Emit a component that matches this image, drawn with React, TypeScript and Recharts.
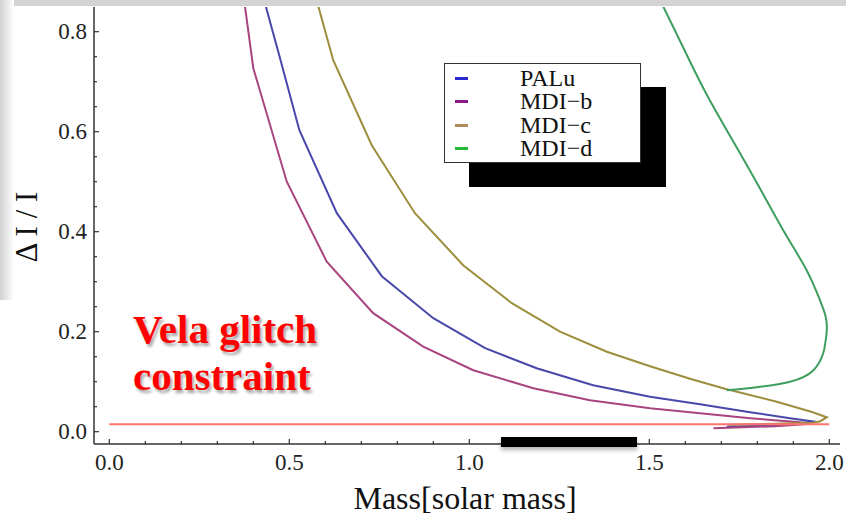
import { LineChart, Line, XAxis, YAxis, Legend } from "recharts"

// values
const PALU_MASS = [0.435, 0.472, 0.528, 0.632, 0.757, 0.9, 1.044, 1.187, 1.344, 1.502, 1.641, 1.78, 1.9, 1.962, 1.85, 1.715]
const PALU_DI = [0.85, 0.753, 0.603, 0.437, 0.311, 0.227, 0.167, 0.127, 0.093, 0.07, 0.055, 0.039, 0.026, 0.02, 0.013, 0.01]

const MDIB_MASS = [0.377, 0.4, 0.493, 0.604, 0.733, 0.872, 1.011, 1.178, 1.335, 1.502, 1.641, 1.78, 1.918, 1.948, 1.85, 1.678]
const MDIB_DI = [0.85, 0.727, 0.5, 0.34, 0.237, 0.17, 0.123, 0.087, 0.063, 0.047, 0.037, 0.027, 0.019, 0.016, 0.011, 0.007]

const MDIC_MASS = [0.581, 0.622, 0.729, 0.849, 0.983, 1.118, 1.252, 1.382, 1.502, 1.613, 1.71, 1.854, 1.95, 1.993, 1.975, 1.956, 1.85, 1.72]
const MDIC_DI = [0.85, 0.743, 0.573, 0.437, 0.333, 0.257, 0.2, 0.16, 0.131, 0.106, 0.086, 0.06, 0.04, 0.029, 0.021, 0.018, 0.016, 0.014]

const MDID_MASS = [1.539, 1.6, 1.668, 1.779, 1.872, 1.937, 1.974, 1.99, 1.993, 1.989, 1.983, 1.956, 1.891, 1.798, 1.715]
const MDID_DI = [0.85, 0.76, 0.663, 0.523, 0.403, 0.323, 0.263, 0.23, 0.203, 0.178, 0.157, 0.123, 0.1, 0.089, 0.083]

const VELA_MASS = [0, 2.0]
const VELA_DI = [0.0147, 0.0147]

const X_TICKS = [0, 0.1, 0.2, 0.3, 0.4, 0.5, 0.6, 0.7, 0.8, 0.9, 1.0, 1.1, 1.2, 1.3, 1.4, 1.5, 1.6, 1.7, 1.8, 1.9, 2.0]
const Y_TICKS = [0, 0.05, 0.1, 0.15, 0.2, 0.25, 0.3, 0.35, 0.4, 0.45, 0.5, 0.55, 0.6, 0.65, 0.7, 0.75, 0.8]

const zip = (mass: number[], di: number[]) => mass.map((m, i) => ({ m, d: di[i] }))

const series = [
  { name: "PALu", data: zip(PALU_MASS, PALU_DI), stroke: "#4848aa", legend: "#2a2ad0" },
  { name: "MDI\u2212b", data: zip(MDIB_MASS, MDIB_DI), stroke: "#a8447e", legend: "#8a1a8a" },
  { name: "MDI\u2212c", data: zip(MDIC_MASS, MDIC_DI), stroke: "#9c8e3c", legend: "#b08a5c" },
  { name: "MDI\u2212d", data: zip(MDID_MASS, MDID_DI), stroke: "#3e9e5e", legend: "#22bb33" },
]
const velaData = zip(VELA_MASS, VELA_DI)

// plot frame in page pixels
const W = 846
const H = 519
const LEFT = 94
const TOP = 7
const RIGHT = 840
const BOTTOM = 444
const FRAME = "#333"
const SERIF = "'Liberation Serif', 'Times New Roman', serif"
const tickText = { fontSize: 23, fontFamily: SERIF, fill: "#222" }

const isMajor = (v: number, step: number) => Math.abs(v / step - Math.round(v / step)) < 1e-6

const BottomTick = ({ x, payload }: any) => {
  const major = isMajor(payload.value, 0.5)
  return (
    <g>
      <line x1={x} x2={x} y1={BOTTOM} y2={BOTTOM - (major ? 5 : 3)} stroke={FRAME} strokeWidth={1.2} />
      {major && (
        <text x={x} y={470} textAnchor="middle" style={tickText}>
          {payload.value.toFixed(1)}
        </text>
      )}
    </g>
  )
}

const TopTick = ({ x, payload }: any) => {
  const major = isMajor(payload.value, 0.5)
  return <line x1={x} x2={x} y1={TOP} y2={TOP + (major ? 5 : 3)} stroke={FRAME} strokeWidth={1.2} />
}

const LeftTick = ({ y, payload }: any) => {
  const major = isMajor(payload.value, 0.2)
  return (
    <g>
      <line x1={LEFT} x2={LEFT + (major ? 5 : 3)} y1={y} y2={y} stroke={FRAME} strokeWidth={1.2} />
      {major && (
        <text x={87} y={y + 7.5} textAnchor="end" style={tickText}>
          {payload.value.toFixed(1)}
        </text>
      )}
    </g>
  )
}

const RightTick = ({ y, payload }: any) => {
  const major = isMajor(payload.value, 0.2)
  return <line x1={RIGHT} x2={RIGHT - (major ? 5 : 3)} y1={y} y2={y} stroke={FRAME} strokeWidth={1.2} />
}

const LegendBox = () => (
  <div
    style={{
      position: "relative",
      width: 195,
      height: 98,
      background: "#fff",
      border: `1.5px solid ${FRAME}`,
      boxShadow: "25px 24px 0 0 #000",
      fontFamily: SERIF,
    }}
  >
    {series.map((s, i) => (
      <div key={s.name} style={{ position: "absolute", left: 0, top: 3 + i * 23.3, height: 23.3, width: "100%" }}>
        <div style={{ position: "absolute", left: 10, top: 10, width: 13, height: 3, background: s.legend }} />
        <div style={{ position: "absolute", left: 75, top: 0, lineHeight: "23px", fontSize: 24, color: "#111" }}>
          {s.name}
        </div>
      </div>
    ))}
  </div>
)

export default function App() {
  return (
    <div style={{ position: "absolute", left: 0, top: 0, width: W, height: H, background: "#fff", overflow: "hidden" }}>
      {/* slide frame shading */}
      <div style={{ position: "absolute", left: 0, top: 0, width: W, height: 6, background: "#d3d3d3" }} />
      <div
        style={{
          position: "absolute",
          left: 0,
          top: 0,
          width: 14,
          height: 300,
          background: "linear-gradient(to right, #d2d2d2, #f6f6f6 80%, #fff)",
        }}
      />
      <LineChart
        width={W}
        height={H}
        margin={{ top: TOP, right: W - RIGHT, left: 0, bottom: 0 }}
        style={{ position: "absolute", left: 0, top: 0 }}
      >
        <XAxis
          xAxisId="b"
          type="number"
          dataKey="m"
          domain={[-0.0425, 2.0297]}
          allowDataOverflow
          ticks={X_TICKS}
          interval={0}
          height={H - BOTTOM}
          tickLine={false}
          axisLine={{ stroke: FRAME, strokeWidth: 1.5 }}
          tick={<BottomTick />}
          label={{
            content: () => (
              <text x={465} y={509} textAnchor="middle" style={{ fontSize: 32, fontFamily: SERIF, fill: "#111" }}>
                Mass[solar mass]
              </text>
            ),
          }}
        />
        <XAxis
          xAxisId="t"
          orientation="top"
          type="number"
          dataKey="m"
          domain={[-0.0425, 2.0297]}
          allowDataOverflow
          ticks={X_TICKS}
          interval={0}
          height={0}
          tickLine={false}
          axisLine={{ stroke: FRAME, strokeWidth: 1.5 }}
          tick={<TopTick />}
        />
        <YAxis
          yAxisId="l"
          type="number"
          domain={[-0.0246, 0.8494]}
          allowDataOverflow
          ticks={Y_TICKS}
          interval={0}
          width={LEFT}
          tickLine={false}
          axisLine={{ stroke: FRAME, strokeWidth: 1.5 }}
          tick={<LeftTick />}
          label={{
            content: () => (
              <text
                x={37}
                y={227}
                transform="rotate(-90 37 227)"
                textAnchor="middle"
                style={{ fontSize: 31, fontFamily: SERIF, fill: "#111" }}
              >
                Δ I / I
              </text>
            ),
          }}
        />
        <YAxis
          yAxisId="r"
          orientation="right"
          type="number"
          domain={[-0.0246, 0.8494]}
          allowDataOverflow
          ticks={Y_TICKS}
          interval={0}
          width={0}
          tickLine={false}
          axisLine={{ stroke: FRAME, strokeWidth: 1.5 }}
          tick={<RightTick />}
        />
        {series.map((s) => (
          <Line
            key={s.name}
            xAxisId="b"
            yAxisId="l"
            data={s.data}
            dataKey="d"
            name={s.name}
            type={s.name === "MDI\u2212d" ? "natural" : "linear"}
            stroke={s.stroke}
            strokeWidth={2}
            dot={false}
            isAnimationActive={false}
          />
        ))}
        <Line
          xAxisId="b"
          yAxisId="l"
          data={velaData}
          dataKey="d"
          name="Vela"
          type="linear"
          stroke="#ff7272"
          strokeWidth={2}
          dot={false}
          legendType="none"
          isAnimationActive={false}
        />
        <Legend
          layout="horizontal"
          verticalAlign="middle"
          align="center"
          content={() => <LegendBox />}
          wrapperStyle={{ position: "absolute", left: 444, top: 63, width: 198, height: 100 }}
        />
      </LineChart>
      <div
        style={{
          position: "absolute",
          left: 133,
          top: 306,
          fontFamily: SERIF,
          fontWeight: "bold",
          fontSize: 41,
          lineHeight: "47px",
          color: "#ff0000",
          textShadow: "2px 3px 3px rgba(0,0,0,0.35)",
        }}
      >
        Vela glitch
        <br />
        constraint
      </div>
      <div
        style={{
          position: "absolute",
          left: 501,
          top: 437,
          width: 136,
          height: 10,
          background: "#000",
          boxShadow: "0 3px 4px rgba(0,0,0,0.3)",
        }}
      />
    </div>
  )
}
